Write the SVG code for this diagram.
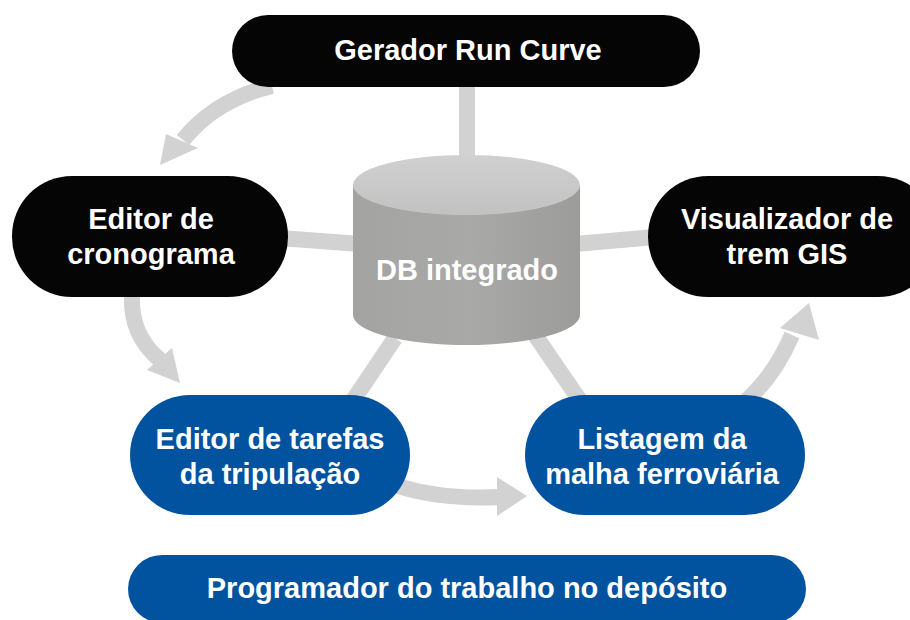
<svg xmlns="http://www.w3.org/2000/svg" width="910" height="620" viewBox="0 0 910 620">
<defs>
<style>
.dark{fill:#050505}
.blue{fill:#0153a0}
.lbl{font-family:"Liberation Sans",Arial,sans-serif;font-weight:bold;font-size:29px;fill:#fff;text-anchor:middle}
.con{fill:none;stroke:#d2d2d2;stroke-width:16}
.head{fill:#d2d2d2}
</style>
<linearGradient id="body" x1="0" y1="0" x2="1" y2="0">
<stop offset="0" stop-color="#a3a3a1"/><stop offset="0.5" stop-color="#a9a9a7"/><stop offset="1" stop-color="#9c9c9a"/>
</linearGradient>
<linearGradient id="top" x1="0" y1="0" x2="0" y2="1">
<stop offset="0" stop-color="#d0d0d0"/><stop offset="1" stop-color="#c2c2c2"/>
</linearGradient>
</defs>
<rect width="910" height="620" fill="#fff"/>
<g id="connectors">
<line class="con" x1="467" y1="80" x2="467" y2="165"/>
<line class="con" x1="280" y1="238" x2="360" y2="244"/>
<line class="con" x1="575" y1="244" x2="655" y2="237"/>
<line class="con" x1="395" y1="338" x2="350" y2="405"/>
<line class="con" x1="535" y1="335" x2="583" y2="405"/>
<path class="con" d="M272,86 Q215,100 183,140"/>
<polygon class="head" points="160,165 166,134 198,148"/>
<path class="con" d="M132,295 Q130,335 160,360"/>
<polygon class="head" points="180,383 147,370 172,348"/>
<path class="con" d="M395,485 Q440,500 500,497"/>
<polygon class="head" points="527,496 497,477 497,516"/>
<path class="con" d="M745,402 Q775,375 792,335"/>
<polygon class="head" points="809,303 780,328 819,340"/>
</g>
<g id="db">
<path d="M353,185 L353,315 A113.5,30 0 0 0 580,315 L580,185 Z" fill="url(#body)"/>
<ellipse cx="466.5" cy="185" rx="113.5" ry="30" fill="url(#top)"/>
<text class="lbl" x="467" y="280">DB integrado</text>
</g>
<g id="gerador">
<rect class="dark" x="232" y="15" width="468" height="72" rx="36"/>
<text class="lbl" x="468" y="60">Gerador Run Curve</text>
</g>
<g id="editor-cronograma">
<rect class="dark" x="12" y="176" width="276" height="121" rx="60"/>
<text class="lbl" x="151" y="229">Editor de</text>
<text class="lbl" x="151" y="264">cronograma</text>
</g>
<g id="visualizador">
<rect class="dark" x="648" y="176" width="290" height="121" rx="60"/>
<text class="lbl" x="787" y="229">Visualizador de</text>
<text class="lbl" x="787" y="264">trem GIS</text>
</g>
<g id="editor-tarefas">
<rect class="blue" x="130" y="395" width="280" height="120" rx="60"/>
<text class="lbl" x="270" y="449">Editor de tarefas</text>
<text class="lbl" x="270" y="484">da tripulação</text>
</g>
<g id="listagem">
<rect class="blue" x="525" y="395" width="280" height="120" rx="60"/>
<text class="lbl" x="662" y="449">Listagem da</text>
<text class="lbl" x="662" y="484">malha ferroviária</text>
</g>
<g id="programador">
<rect class="blue" x="128" y="555" width="678" height="68" rx="34"/>
<text class="lbl" x="467" y="598">Programador do trabalho no depósito</text>
</g>
</svg>
